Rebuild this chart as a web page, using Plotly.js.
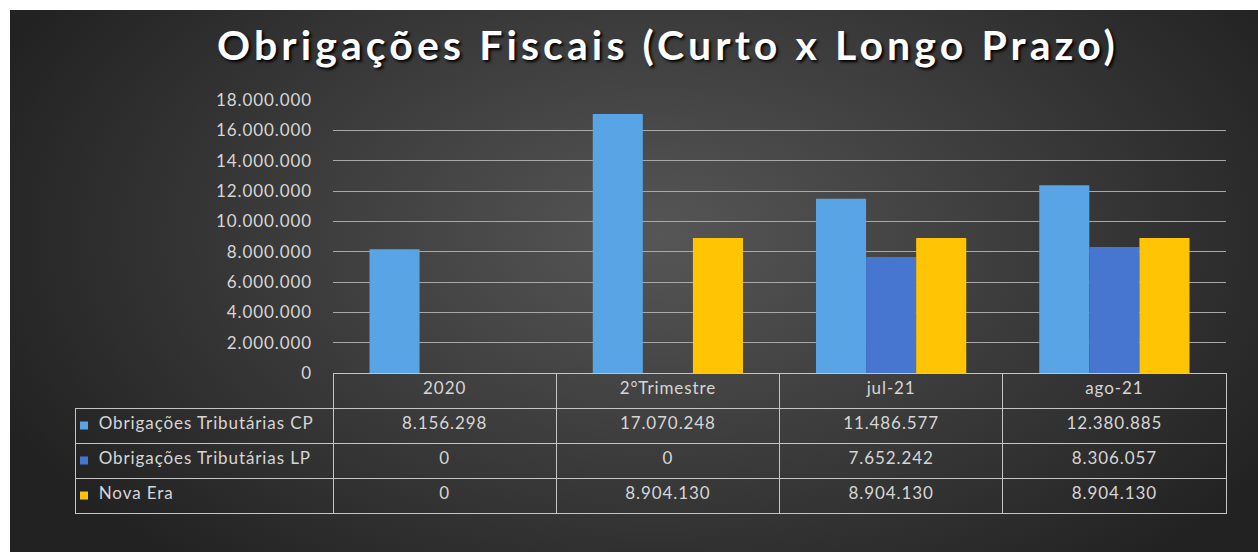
<!DOCTYPE html>
<html>
<head>
<meta charset="utf-8">
<script src="https://cdn.plot.ly/plotly-3.0.1.min.js"></script>
<style>
    html, body { margin: 0; padding: 0; background: #ffffff; }
    #chartContainer {
        width: 1258px;
        height: 552px;
        background-color: #ffffff;
        background-image: radial-gradient(ellipse 58% 80% at 52% 42%, #565656 0%, #3c3c3c 50%, #222222 100%);
        background-position: 10px 10px;
        background-size: 1248px 542px;
        background-repeat: no-repeat;
    }
    .gtitle { letter-spacing: 4.1px; }
    .ytick text { letter-spacing: 0.9px; }
    .table-control-view text { letter-spacing: 0.9px; }
</style>
</head>
<body>
<div id="chartContainer"></div>
<script>
// categories (table header)
const categories = ['2020', '2°Trimestre', 'jul-21', 'ago-21'];

// series
const seriesNames = ['Obrigações Tributárias CP', 'Obrigações Tributárias LP', 'Nova Era'];
const cpValues = [8156298, 17070248, 11486577, 12380885];
const lpValues = [0, 0, 7652242, 8306057];
const novaEraValues = [0, 8904130, 8904130, 8904130];

// y axis ticks
const yTicks = [0, 2000000, 4000000, 6000000, 8000000, 10000000, 12000000, 14000000, 16000000, 18000000];

const colors = ['#58a4e4', '#4676d0', '#ffc404'];
const textColor = '#d6d6d6';
const lineColor = '#c4c4c4';
const NBSP = '\u00A0';

// '8156298' -> '8.156.298'
const fmt = num => num.toString().replace(/\B(?=(\d{3})+(?!\d))/g, '.');

const allSeries = [cpValues, lpValues, novaEraValues];

// bar traces
const bars = allSeries.map((vals, i) => ({
    type: 'bar',
    name: seriesNames[i],
    x: categories,
    y: vals,
    marker: { color: colors[i], line: { width: 0 } },
    hoverinfo: 'skip',
    xaxis: 'x',
    yaxis: 'y',
}));

// legend keys in the first table column (own axes over the table rows)
const keyX = 9;   // px from the table's left edge
const legendKeys = {
    type: 'scatter',
    mode: 'markers',
    x: seriesNames.map(() => keyX),
    y: seriesNames,
    marker: { symbol: 'square', size: 8, color: colors, line: { width: 0 } },
    hoverinfo: 'skip',
    xaxis: 'x2',
    yaxis: 'y2',
};

// data table under the plot
const labelCol = seriesNames.map(n => NBSP.repeat(3) + n);
const valueCols = categories.map((c, j) => allSeries.map(vals => fmt(vals[j])));

const table = {
    type: 'table',
    domain: { x: [0, 1], y: [0, 142 / 415] },
    columnwidth: [258, 223.25, 223.25, 223.25, 223.25],
    header: {
        values: ['', ...categories],
        height: 35,
        align: 'center',
        fill: { color: 'rgba(0,0,0,0)' },
        line: { color: ['rgba(0,0,0,0)', lineColor, lineColor, lineColor, lineColor], width: 1 },
        font: { family: 'Lato, sans-serif', size: 17, color: textColor },
    },
    cells: {
        values: [labelCol, ...valueCols],
        height: 35,
        align: ['left', 'center', 'center', 'center', 'center'],
        fill: { color: 'rgba(0,0,0,0)' },
        line: { color: lineColor, width: 1 },
        font: { family: 'Lato, sans-serif', size: 17, color: textColor },
    },
};

const layout = {
    width: 1258,
    height: 552,
    margin: { l: 75, r: 32, t: 100, b: 37 },
    paper_bgcolor: 'rgba(0,0,0,0)',
    plot_bgcolor: 'rgba(0,0,0,0)',
    separators: ',.',
    showlegend: false,
    barmode: 'group',
    bargap: 0.327,
    bargroupgap: 0,
    title: {
        text: 'Obrigações Fiscais (Curto x Longo Prazo)',
        x: 668 / 1258,
        xanchor: 'center',
        xref: 'container',
        y: 1 - 46 / 552,
        yanchor: 'middle',
        yref: 'container',
        font: {
            family: 'Lato, sans-serif',
            size: 41,
            weight: 'bold',
            color: '#ffffff',
            shadow: '2px 2px 3px #000000',
        },
    },
    xaxis: {
        domain: [258 / 1151, 1],
        showticklabels: false,
        showgrid: false,
        zeroline: false,
        showline: false,
        fixedrange: true,
    },
    yaxis: {
        domain: [142 / 415, 1],
        range: [0, 18000000],
        tickvals: yTicks,
        tickformat: ',d',
        showgrid: true,
        gridcolor: '#a8a8a8',
        gridwidth: 1,
        zeroline: false,
        showline: false,
        ticklabelstandoff: 20,
        tickfont: { family: 'Lato, sans-serif', size: 17, color: textColor },
        fixedrange: true,
    },
    xaxis2: {
        domain: [0, 258 / 1151],
        range: [0, 258],
        anchor: 'y2',
        visible: false,
        fixedrange: true,
    },
    yaxis2: {
        domain: [2 / 415, 107 / 415],
        type: 'category',
        range: [2.5, -0.5],
        anchor: 'x2',
        visible: false,
        fixedrange: true,
    },
};

Plotly.newPlot('chartContainer', [...bars, table, legendKeys], layout, { displayModeBar: false, staticPlot: true });
</script>
</body>
</html>
